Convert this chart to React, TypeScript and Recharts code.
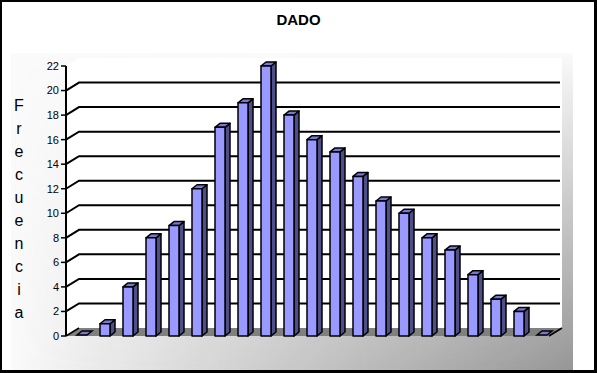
import React from 'react';
import { BarChart, Bar, XAxis, YAxis, ReferenceArea } from 'recharts';

// valores
const categorias = ['1', '2', '3', '4', '5', '6', '7', '8', '9', '10', '11', '12', '13', '14', '15', '16', '17', '18', '19', '20', '21'];
const frecuencias = [0, 1, 4, 8, 9, 12, 17, 19, 22, 18, 16, 15, 13, 11, 10, 8, 7, 5, 3, 2, 0];
const yTicks = [0, 2, 4, 6, 8, 10, 12, 14, 16, 18, 20, 22];
const titulo = 'DADO';
const ejeY = 'Frecuencia';

const data = categorias.map((c, i) => ({ name: c, value: frecuencias[i] }));

const FONT = '"Liberation Sans", Arial, sans-serif';
const DX = 13; // profundidad del 3D
const DY = 8;

// pared, suelo y líneas de la cuadrícula (a partir de la escala)
const Pared = (props: any) => {
  const { x, y, width: w, height: h } = props;
  const step = h / 11;
  const lines = [];
  for (let k = 1; k <= 10; k++) {
    const yy = y + h - k * step;
    lines.push(
      <path
        key={k}
        d={`M${x},${yy} L${x + DX},${yy - DY} L${x + w + DX - 2},${yy - DY}`}
        stroke="#000"
        strokeWidth={2}
        fill="none"
      />
    );
  }
  return (
    <g>
      <polygon
        points={`${x},${y} ${x + DX},${y - DY} ${x + w + DX},${y - DY} ${x + w + DX},${y + h - DY} ${x + w},${y + h} ${x},${y + h}`}
        fill="#fff"
      />
      <polygon
        points={`${x},${y + h} ${x + w},${y + h} ${x + w + DX},${y + h - DY} ${x + DX},${y + h - DY}`}
        fill="#808080"
      />
      {lines}
      <path d={`M${x},${y + h} L${x + DX},${y + h - DY}`} stroke="#000" strokeWidth={1.5} />
      <path d={`M${x + w},${y + h} L${x + w + DX},${y + h - DY}`} stroke="#000" strokeWidth={1.5} />
    </g>
  );
};

// barra en 3D
const Barra3D = (props: any) => {
  const { x, y, width, height } = props;
  const bx = x + 4;
  const d = 5;
  const e = 4;
  const bottom = y + height;
  if (!height || height < 1) {
    return (
      <polygon
        points={`${bx},${bottom - 1} ${bx + d},${bottom - 1 - e} ${bx + width + d},${bottom - 1 - e} ${bx + width},${bottom - 1}`}
        fill="#7777d8"
        stroke="#000"
        strokeWidth={1.5}
      />
    );
  }
  return (
    <g stroke="#000" strokeWidth={1.5} strokeLinejoin="round">
      <polygon
        points={`${bx + width},${y} ${bx + width + d},${y - e} ${bx + width + d},${bottom - e} ${bx + width},${bottom}`}
        fill="#4e4e88"
      />
      <polygon
        points={`${bx},${y} ${bx + d},${y - e} ${bx + width + d},${y - e} ${bx + width},${y}`}
        fill="#7777d8"
      />
      <rect x={bx} y={y} width={width} height={height} fill="#9999ff" />
    </g>
  );
};

export default function App() {
  return (
    <div style={{ position: 'absolute', left: 0, top: 0, width: 597, height: 373, background: '#fff', fontFamily: FONT }}>
      <div
        style={{
          position: 'absolute',
          left: 11,
          top: 53,
          width: 562,
          height: 317,
          background: '#fafafa',
        }}
      />
      <div
        style={{
          position: 'absolute',
          left: 11,
          top: 53,
          width: 562,
          height: 317,
          background: 'linear-gradient(to right, rgba(150,150,150,0), rgba(150,150,150,1))',
          WebkitMaskImage: 'linear-gradient(to bottom, transparent, black)',
          maskImage: 'linear-gradient(to bottom, transparent, black)',
        }}
      />
      <div
        style={{
          position: 'absolute',
          left: 0,
          top: 0,
          width: 597,
          height: 373,
          boxSizing: 'border-box',
          borderTop: '2px solid #000',
          borderLeft: '2px solid #000',
          borderRight: '3px solid #000',
          borderBottom: '3px solid #000',
        }}
      />
      <div
        style={{
          position: 'absolute',
          left: 0,
          width: 597,
          top: 11,
          textAlign: 'center',
          fontSize: 15,
          fontWeight: 'bold',
          lineHeight: '18px',
        }}
      >
        {titulo}
      </div>
      {ejeY.split('').map((ch, i) => (
        <div
          key={i}
          style={{
            position: 'absolute',
            left: 4,
            width: 30,
            top: 96 + i * 23,
            textAlign: 'center',
            fontSize: 16,
            lineHeight: '20px',
          }}
        >
          {ch}
        </div>
      ))}
      <div style={{ position: 'absolute', left: 0, top: 0 }}>
        <BarChart
          width={597}
          height={373}
          data={data}
          margin={{ top: 66, right: 48, bottom: 37, left: 0 }}
          barSize={10}
        >
          <ReferenceArea y1={0} y2={22} shape={<Pared />} ifOverflow="visible" />
          <XAxis
            dataKey="name"
            height={0}
            tick={false}
            tickLine={false}
            stroke="#000"
            axisLine={{ stroke: '#000', strokeWidth: 2 }}
          />
          <YAxis
            width={66}
            domain={[0, 22]}
            ticks={yTicks}
            interval={0}
            tickSize={5}
            stroke="#000"
            tickLine={{ stroke: '#000', strokeWidth: 1.5 }}
            axisLine={{ stroke: '#000', strokeWidth: 2 }}
            tick={{ fill: '#000', fontSize: 11, fontFamily: FONT }}
          />
          <Bar dataKey="value" shape={<Barra3D />} isAnimationActive={false} />
        </BarChart>
      </div>
    </div>
  );
}
